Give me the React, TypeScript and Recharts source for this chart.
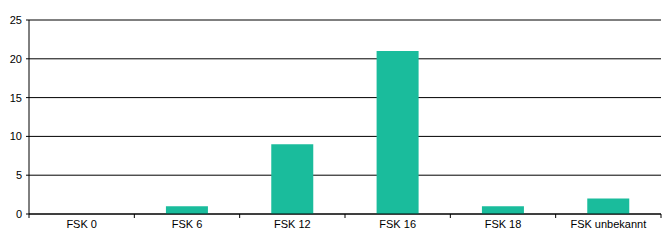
import React from 'react';
import { BarChart, Bar, XAxis, YAxis, CartesianGrid } from 'recharts';

const categories = ['FSK 0', 'FSK 6', 'FSK 12', 'FSK 16', 'FSK 18', 'FSK unbekannt'];
const counts = [0, 1, 9, 21, 1, 2];
const yTicks = [0, 5, 10, 15, 20, 25];

const data = categories.map((name, i) => ({ name, value: counts[i] }));

const W = 670;
const H = 245;
const margin = { top: 20, right: 9, bottom: 0, left: 0 };
const yAxisWidth = 29;
const bandWidth = (W - margin.left - margin.right - yAxisWidth) / categories.length;

const font = '"Liberation Sans", Arial, sans-serif';

// label at band centre, tick marks on the band borders
const CategoryTick = (props: any) => {
  const { x, y, payload, index } = props;
  const left = x - bandWidth / 2;
  const right = x + bandWidth / 2;
  return (
    <g>
      <line x1={left} y1={y} x2={left} y2={y + 4} stroke="#000" />
      {index === categories.length - 1 && <line x1={right} y1={y} x2={right} y2={y + 4} stroke="#000" />}
      <text x={x} y={y + 14} textAnchor="middle" fontSize={11} fontFamily={font} fill="#000">
        {payload.value}
      </text>
    </g>
  );
};

export default function App() {
  return (
    <div style={{ position: 'absolute', left: 0, top: 0, width: W, height: H, background: '#fff' }}>
      <BarChart width={W} height={H} data={data} margin={margin} barCategoryGap="30%">
        <CartesianGrid vertical={false} stroke="#000" strokeWidth={1} />
        <XAxis
          dataKey="name"
          interval={0}
          height={31}
          axisLine={{ stroke: '#000' }}
          tickLine={false}
          tickSize={0}
          tickMargin={0}
          tick={<CategoryTick />}
        />
        <YAxis
          domain={[0, 25]}
          ticks={yTicks}
          width={yAxisWidth}
          axisLine={{ stroke: '#000' }}
          tickLine={{ stroke: '#000' }}
          tickSize={3}
          tickMargin={4}
          tick={{ fontSize: 11, fontFamily: font, fill: '#000' }}
        />
        <Bar dataKey="value" fill="#1ABC9C" isAnimationActive={false} />
      </BarChart>
    </div>
  );
}
